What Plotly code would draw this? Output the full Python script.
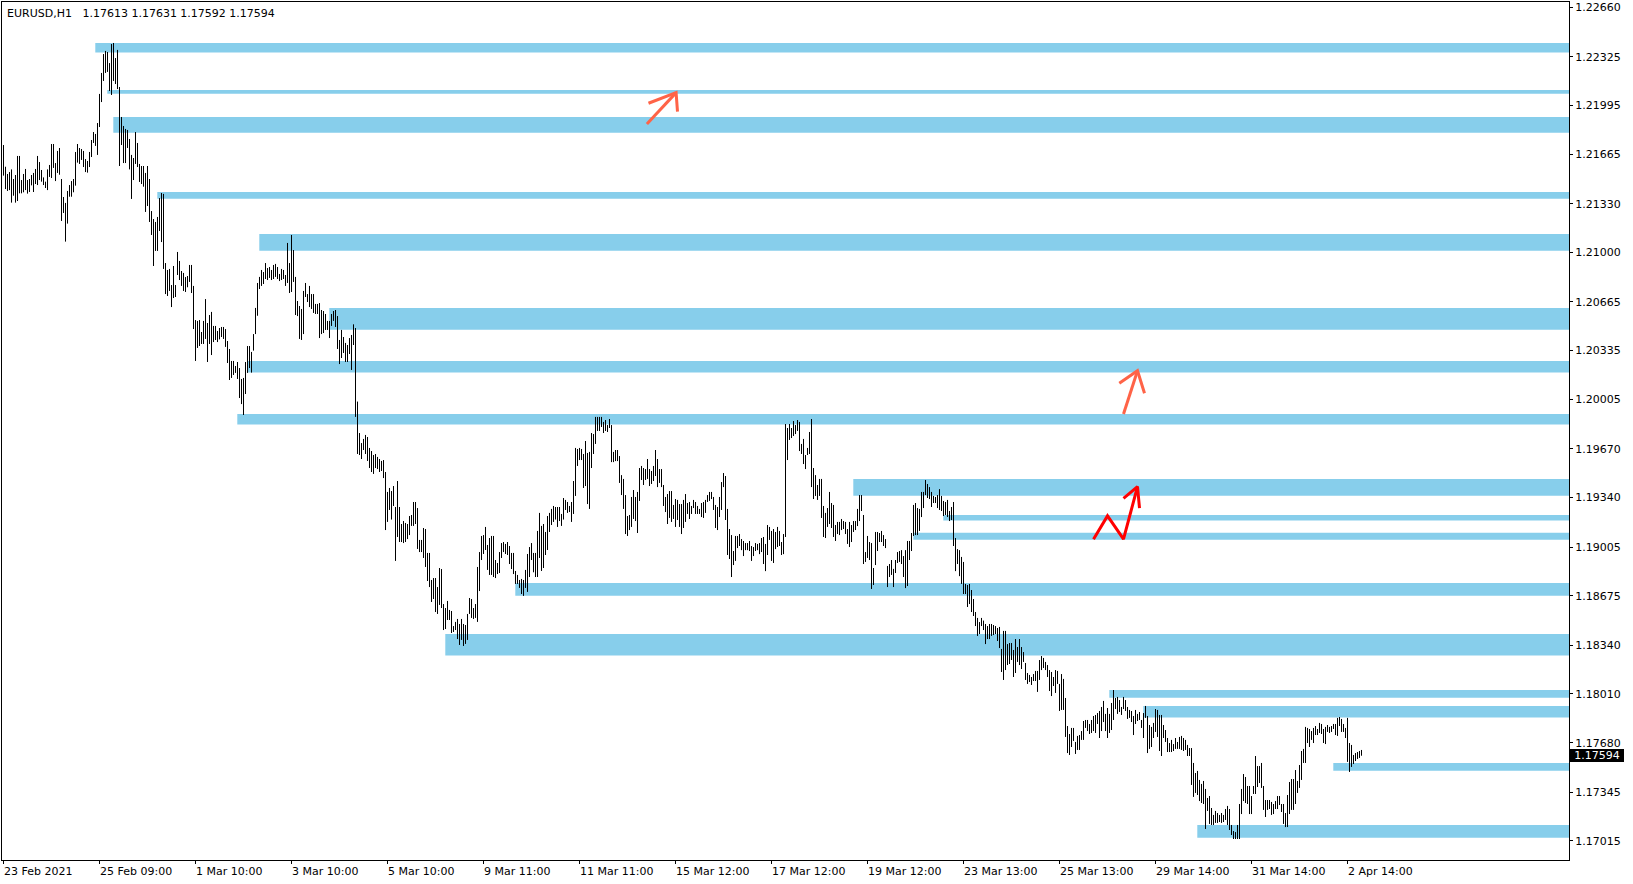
import plotly.graph_objects as go

# ---------------- data (EURUSD H1, one value per bar) ----------------
high = [
    1.21727, 1.21580, 1.21531, 1.21544, 1.21562, 1.21497, 1.21524, 1.21653, 1.21653, 1.21490,
    1.21531, 1.21565, 1.21490, 1.21497, 1.21524, 1.21538, 1.21565, 1.21653, 1.21612, 1.21558,
    1.21508, 1.21479, 1.21562, 1.21592, 1.21734, 1.21734, 1.21605, 1.21687, 1.21707, 1.21497,
    1.21375, 1.21335, 1.21416, 1.21456, 1.21483, 1.21497, 1.21680, 1.21734, 1.21707, 1.21700,
    1.21687, 1.21632, 1.21619, 1.21680, 1.21761, 1.21815, 1.21802, 1.21876, 1.22073, 1.22215,
    1.22343, 1.22364, 1.22357, 1.22282, 1.22411, 1.22418, 1.22316, 1.22371, 1.22120, 1.21917,
    1.21856, 1.21836, 1.21829, 1.21768, 1.21660, 1.21639, 1.21815, 1.21741, 1.21599, 1.21585,
    1.21585, 1.21538, 1.21585, 1.21497, 1.21280, 1.21226, 1.21206, 1.21240, 1.21368, 1.21402,
    1.21396, 1.20928, 1.20881, 1.20888, 1.20779, 1.20908, 1.20779, 1.21003, 1.20942, 1.20874,
    1.20861, 1.20833, 1.20840, 1.20915, 1.20915, 1.20773, 1.20542, 1.20536, 1.20542, 1.20461,
    1.20536, 1.20684, 1.20522, 1.20576, 1.20597, 1.20502, 1.20502, 1.20468, 1.20488, 1.20495,
    1.20495, 1.20481, 1.20400, 1.20346, 1.20265, 1.20265, 1.20231, 1.20258, 1.20217, 1.20143,
    1.20150, 1.20258, 1.20366, 1.20366, 1.20326, 1.20447, 1.20624, 1.20793, 1.20834, 1.20881,
    1.20867, 1.20928, 1.20894, 1.20901, 1.20881, 1.20915, 1.20922, 1.20901, 1.20854, 1.20888,
    1.20881, 1.20847, 1.21064, 1.20928, 1.21118, 1.21016, 1.20834, 1.20671, 1.20637, 1.20617,
    1.20739, 1.20793, 1.20718, 1.20773, 1.20718, 1.20718, 1.20651, 1.20651, 1.20657, 1.20610,
    1.20603, 1.20583, 1.20536, 1.20536, 1.20583, 1.20603, 1.20610, 1.20569, 1.20407, 1.20475,
    1.20427, 1.20387, 1.20373, 1.20420, 1.20441, 1.20513, 1.20488, 1.19990, 1.19777, 1.19709,
    1.19737, 1.19764, 1.19750, 1.19676, 1.19655, 1.19628, 1.19635, 1.19615, 1.19601, 1.19588,
    1.19594, 1.19513, 1.19378, 1.19405, 1.19384, 1.19418, 1.19276, 1.19452, 1.19276, 1.19161,
    1.19181, 1.19168, 1.19161, 1.19215, 1.19222, 1.19310, 1.19310, 1.19269, 1.19053, 1.19053,
    1.19134, 1.19127, 1.18965, 1.18965, 1.18782, 1.18795, 1.18795, 1.18734, 1.18863, 1.18856,
    1.18619, 1.18592, 1.18640, 1.18579, 1.18572, 1.18470, 1.18498, 1.18518, 1.18484, 1.18518,
    1.18484, 1.18477, 1.18552, 1.18660, 1.18653, 1.18592, 1.18619, 1.18870, 1.18971, 1.19080,
    1.19086, 1.19141, 1.19019, 1.19066, 1.19080, 1.19080, 1.18917, 1.18897, 1.18971, 1.19032,
    1.19039, 1.19026, 1.19039, 1.19012, 1.18965, 1.18965, 1.18843, 1.18816, 1.18782, 1.18789,
    1.18782, 1.18850, 1.18958, 1.19005, 1.19032, 1.18965, 1.18965, 1.19114, 1.19236, 1.19148,
    1.19161, 1.19107, 1.19215, 1.19236, 1.19263, 1.19283, 1.19276, 1.19276, 1.19276, 1.19229,
    1.19337, 1.19324, 1.19310, 1.19283, 1.19310, 1.19452, 1.19676, 1.19669, 1.19676, 1.19669,
    1.19635, 1.19723, 1.19642, 1.19649, 1.19777, 1.19770, 1.19886, 1.19886, 1.19886, 1.19886,
    1.19852, 1.19865, 1.19831, 1.19872, 1.19831, 1.19649, 1.19662, 1.19662, 1.19621, 1.19492,
    1.19466, 1.19357, 1.19215, 1.19222, 1.19344, 1.19391, 1.19344, 1.19378, 1.19540, 1.19554,
    1.19540, 1.19533, 1.19601, 1.19533, 1.19520, 1.19554, 1.19662, 1.19601, 1.19533, 1.19533,
    1.19425, 1.19344, 1.19364, 1.19384, 1.19384, 1.19290, 1.19330, 1.19324, 1.19296, 1.19296,
    1.19324, 1.19364, 1.19303, 1.19310, 1.19283, 1.19324, 1.19310, 1.19283, 1.19263, 1.19303,
    1.19310, 1.19324, 1.19357, 1.19378, 1.19378, 1.19344, 1.19290, 1.19276, 1.19344, 1.19445,
    1.19506, 1.19486, 1.19263, 1.19127, 1.19086, 1.18978, 1.19080, 1.19080, 1.19093, 1.19059,
    1.19046, 1.19032, 1.19032, 1.19046, 1.19012, 1.19005, 1.19032, 1.19026, 1.19032, 1.19066,
    1.19073, 1.19026, 1.19154, 1.19141, 1.19114, 1.19127, 1.19107, 1.19141, 1.19114, 1.19039,
    1.19093, 1.19838, 1.19811, 1.19838, 1.19811, 1.19858, 1.19831, 1.19865, 1.19852, 1.19703,
    1.19737, 1.19628, 1.19676, 1.19784, 1.19872, 1.19540, 1.19492, 1.19425, 1.19466, 1.19466,
    1.19283, 1.19236, 1.19269, 1.19378, 1.19303, 1.19290, 1.19154, 1.19175, 1.19175, 1.19195,
    1.19181, 1.19175, 1.19127, 1.19175, 1.19154, 1.19181, 1.19181, 1.19263, 1.19357, 1.19357,
    1.19222, 1.18971, 1.19080, 1.19039, 1.19032, 1.18863, 1.19107, 1.19107, 1.19100, 1.19114,
    1.19086, 1.19059, 1.18877, 1.18890, 1.18917, 1.18857, 1.18917, 1.18971, 1.18978, 1.18984,
    1.18944, 1.18984, 1.19046, 1.19046, 1.19100, 1.19290, 1.19303, 1.19269, 1.19263, 1.19378,
    1.19378, 1.19459, 1.19432, 1.19411, 1.19378, 1.19351, 1.19344, 1.19357, 1.19397, 1.19351,
    1.19317, 1.19310, 1.19324, 1.19249, 1.19276, 1.19310, 1.19066, 1.18991, 1.18984, 1.18938,
    1.18904, 1.18755, 1.18748, 1.18755, 1.18714, 1.18653, 1.18565, 1.18525, 1.18497, 1.18525,
    1.18507, 1.18484, 1.18470, 1.18484, 1.18484, 1.18477, 1.18470, 1.18457, 1.18464, 1.18315,
    1.18437, 1.18437, 1.18348, 1.18355, 1.18355, 1.18308, 1.18382, 1.18328, 1.18382, 1.18328,
    1.18294, 1.18220, 1.18152, 1.18139, 1.18125, 1.18145, 1.18166, 1.18166, 1.18240, 1.18267,
    1.18254, 1.18227, 1.18206, 1.18172, 1.18159, 1.18125, 1.18172, 1.18166, 1.18078, 1.18145,
    1.18112, 1.17983, 1.17793, 1.17739, 1.17780, 1.17780, 1.17685, 1.17726, 1.17732, 1.17759,
    1.17827, 1.17834, 1.17834, 1.17807, 1.17834, 1.17861, 1.17868, 1.17881, 1.17895, 1.17922,
    1.17963, 1.17875, 1.17915, 1.17875, 1.17949, 1.18037, 1.17983, 1.17990, 1.17969, 1.17922,
    1.17990, 1.17969, 1.17922, 1.17902, 1.17895, 1.17861, 1.17902, 1.17875, 1.17888, 1.17834,
    1.17881, 1.17929, 1.17861, 1.17800, 1.17787, 1.17814, 1.17908, 1.17902, 1.17868, 1.17868,
    1.17800, 1.17766, 1.17712, 1.17678, 1.17699, 1.17671, 1.17712, 1.17685, 1.17719, 1.17726,
    1.17712, 1.17699, 1.17665, 1.17644, 1.17644, 1.17543, 1.17475, 1.17489, 1.17428, 1.17401,
    1.17421, 1.17367, 1.17306, 1.17319, 1.17238, 1.17191, 1.17218, 1.17204, 1.17191, 1.17204,
    1.17191, 1.17231, 1.17252, 1.17231, 1.17123, 1.17082, 1.17075, 1.17123, 1.17265, 1.17367,
    1.17468, 1.17448, 1.17387, 1.17387, 1.17319, 1.17387, 1.17590, 1.17522, 1.17522, 1.17543,
    1.17387, 1.17292, 1.17292, 1.17292, 1.17279, 1.17265, 1.17285, 1.17319, 1.17319, 1.17265,
    1.17265, 1.17204, 1.17326, 1.17414, 1.17434, 1.17434, 1.17495, 1.17421, 1.17529, 1.17624,
    1.17638, 1.17787, 1.17780, 1.17773, 1.17759, 1.17780, 1.17793, 1.17773, 1.17814, 1.17807,
    1.17773, 1.17787, 1.17800, 1.17787, 1.17793, 1.17807, 1.17807, 1.17848, 1.17854, 1.17841,
    1.17807, 1.17780, 1.17848, 1.17678, 1.17665, 1.17597, 1.17610, 1.17617, 1.17624, 1.17631,
]

low = [
    1.21520, 1.21429, 1.21416, 1.21422, 1.21337, 1.21384, 1.21337, 1.21348, 1.21400, 1.21400,
    1.21407, 1.21422, 1.21398, 1.21409, 1.21454, 1.21409, 1.21463, 1.21456, 1.21490, 1.21479,
    1.21456, 1.21436, 1.21422, 1.21511, 1.21504, 1.21572, 1.21483, 1.21538, 1.21526, 1.21213,
    1.21267, 1.21073, 1.21195, 1.21377, 1.21377, 1.21407, 1.21452, 1.21608, 1.21599, 1.21626,
    1.21578, 1.21544, 1.21540, 1.21578, 1.21646, 1.21741, 1.21721, 1.21660, 1.21849, 1.22018,
    1.22161, 1.22215, 1.22222, 1.22093, 1.22066, 1.22161, 1.22140, 1.22106, 1.21585, 1.21727,
    1.21605, 1.21605, 1.21707, 1.21562, 1.21362, 1.21490, 1.21599, 1.21578, 1.21477, 1.21463,
    1.21445, 1.21274, 1.21314, 1.21206, 1.21118, 1.20908, 1.21010, 1.21010, 1.21145, 1.21070,
    1.20888, 1.20718, 1.20705, 1.20739, 1.20630, 1.20691, 1.20698, 1.20847, 1.20813, 1.20773,
    1.20739, 1.20732, 1.20764, 1.20800, 1.20725, 1.20481, 1.20265, 1.20353, 1.20366, 1.20380,
    1.20380, 1.20414, 1.20258, 1.20380, 1.20305, 1.20393, 1.20407, 1.20393, 1.20411, 1.20427,
    1.20414, 1.20360, 1.20251, 1.20136, 1.20150, 1.20170, 1.20184, 1.20143, 1.20014, 1.19973,
    1.19899, 1.20041, 1.20184, 1.20217, 1.20186, 1.20335, 1.20447, 1.20571, 1.20752, 1.20773,
    1.20786, 1.20820, 1.20813, 1.20827, 1.20813, 1.20820, 1.20834, 1.20820, 1.20806, 1.20813,
    1.20820, 1.20773, 1.20793, 1.20725, 1.20732, 1.20800, 1.20576, 1.20569, 1.20414, 1.20407,
    1.20447, 1.20698, 1.20664, 1.20630, 1.20617, 1.20590, 1.20583, 1.20583, 1.20420, 1.20447,
    1.20454, 1.20475, 1.20475, 1.20420, 1.20502, 1.20536, 1.20495, 1.20346, 1.20244, 1.20285,
    1.20319, 1.20258, 1.20258, 1.20312, 1.20204, 1.20373, 1.19886, 1.19635, 1.19628, 1.19601,
    1.19662, 1.19635, 1.19588, 1.19540, 1.19513, 1.19500, 1.19540, 1.19533, 1.19513, 1.19520,
    1.19472, 1.19120, 1.19175, 1.19256, 1.19191, 1.19283, 1.18911, 1.19073, 1.19039, 1.19039,
    1.19032, 1.19039, 1.19059, 1.19086, 1.19148, 1.19148, 1.19161, 1.18992, 1.18971, 1.18971,
    1.18931, 1.18870, 1.18775, 1.18734, 1.18633, 1.18653, 1.18565, 1.18552, 1.18613, 1.18592,
    1.18443, 1.18450, 1.18511, 1.18511, 1.18423, 1.18430, 1.18443, 1.18382, 1.18342, 1.18376,
    1.18335, 1.18349, 1.18376, 1.18552, 1.18525, 1.18518, 1.18525, 1.18498, 1.18707, 1.18917,
    1.18958, 1.18985, 1.18850, 1.18816, 1.18816, 1.18802, 1.18795, 1.18822, 1.18829, 1.18931,
    1.18971, 1.18958, 1.18951, 1.18890, 1.18856, 1.18822, 1.18755, 1.18755, 1.18728, 1.18687,
    1.18674, 1.18728, 1.18701, 1.18802, 1.18917, 1.18834, 1.18802, 1.18802, 1.18931, 1.18843,
    1.18863, 1.18951, 1.18985, 1.19107, 1.19154, 1.19175, 1.19191, 1.19141, 1.19181, 1.19148,
    1.19191, 1.19256, 1.19236, 1.19242, 1.19175, 1.19229, 1.19351, 1.19554, 1.19594, 1.19594,
    1.19405, 1.19418, 1.19296, 1.19263, 1.19540, 1.19635, 1.19703, 1.19791, 1.19791, 1.19818,
    1.19777, 1.19791, 1.19784, 1.19811, 1.19580, 1.19580, 1.19587, 1.19587, 1.19439, 1.19357,
    1.19263, 1.19093, 1.19080, 1.19120, 1.19141, 1.19195, 1.19181, 1.19100, 1.19317, 1.19459,
    1.19425, 1.19459, 1.19466, 1.19418, 1.19432, 1.19452, 1.19486, 1.19411, 1.19439, 1.19411,
    1.19283, 1.19242, 1.19161, 1.19202, 1.19175, 1.19195, 1.19141, 1.19188, 1.19141, 1.19093,
    1.19134, 1.19175, 1.19229, 1.19195, 1.19229, 1.19269, 1.19229, 1.19229, 1.19229, 1.19208,
    1.19202, 1.19236, 1.19310, 1.19317, 1.19330, 1.19256, 1.19134, 1.19120, 1.19208, 1.19256,
    1.19411, 1.19188, 1.18951, 1.18924, 1.18802, 1.18883, 1.18911, 1.18998, 1.19012, 1.18984,
    1.18944, 1.18984, 1.18984, 1.18978, 1.18911, 1.18944, 1.18978, 1.18984, 1.18957, 1.18971,
    1.18890, 1.18842, 1.18951, 1.19053, 1.18911, 1.18897, 1.18991, 1.19005, 1.19012, 1.18951,
    1.18957, 1.19073, 1.19594, 1.19730, 1.19743, 1.19757, 1.19770, 1.19791, 1.19655, 1.19635,
    1.19567, 1.19533, 1.19628, 1.19635, 1.19411, 1.19330, 1.19351, 1.19324, 1.19351, 1.19202,
    1.19073, 1.19066, 1.19141, 1.19161, 1.19134, 1.19073, 1.19046, 1.19093, 1.19086, 1.19120,
    1.19127, 1.19093, 1.19026, 1.19005, 1.19039, 1.19107, 1.19120, 1.19147, 1.19181, 1.19249,
    1.18890, 1.18904, 1.18931, 1.18917, 1.18721, 1.18748, 1.18883, 1.18978, 1.19039, 1.19039,
    1.19012, 1.18998, 1.18734, 1.18802, 1.18816, 1.18734, 1.18829, 1.18897, 1.18904, 1.18890,
    1.18802, 1.18727, 1.18741, 1.18917, 1.18978, 1.19080, 1.19086, 1.19086, 1.19114, 1.19208,
    1.19269, 1.19357, 1.19337, 1.19330, 1.19276, 1.19303, 1.19303, 1.19269, 1.19256, 1.19249,
    1.19215, 1.19222, 1.19208, 1.19181, 1.19188, 1.19012, 1.18842, 1.18890, 1.18808, 1.18755,
    1.18687, 1.18687, 1.18599, 1.18619, 1.18565, 1.18538, 1.18470, 1.18403, 1.18416, 1.18470,
    1.18443, 1.18348, 1.18382, 1.18382, 1.18403, 1.18409, 1.18416, 1.18369, 1.18321, 1.18159,
    1.18105, 1.18172, 1.18206, 1.18213, 1.18240, 1.18125, 1.18152, 1.18227, 1.18206, 1.18179,
    1.18227, 1.18105, 1.18078, 1.18091, 1.18071, 1.18098, 1.18098, 1.18024, 1.18105, 1.18172,
    1.18186, 1.18172, 1.18125, 1.18030, 1.17996, 1.18064, 1.18017, 1.18078, 1.17895, 1.17902,
    1.17902, 1.17719, 1.17610, 1.17597, 1.17651, 1.17692, 1.17604, 1.17631, 1.17631, 1.17699,
    1.17699, 1.17780, 1.17759, 1.17739, 1.17746, 1.17759, 1.17746, 1.17807, 1.17712, 1.17759,
    1.17820, 1.17759, 1.17712, 1.17746, 1.17766, 1.17834, 1.17908, 1.17875, 1.17888, 1.17868,
    1.17908, 1.17895, 1.17841, 1.17848, 1.17820, 1.17732, 1.17807, 1.17827, 1.17834, 1.17780,
    1.17712, 1.17848, 1.17610, 1.17638, 1.17651, 1.17712, 1.17753, 1.17719, 1.17624, 1.17590,
    1.17712, 1.17685, 1.17617, 1.17617, 1.17617, 1.17624, 1.17638, 1.17638, 1.17638, 1.17631,
    1.17624, 1.17631, 1.17590, 1.17590, 1.17394, 1.17313, 1.17340, 1.17326, 1.17285, 1.17272,
    1.17265, 1.17096, 1.17218, 1.17130, 1.17123, 1.17123, 1.17137, 1.17137, 1.17143, 1.17137,
    1.17143, 1.17157, 1.17123, 1.17089, 1.17055, 1.17028, 1.17028, 1.17028, 1.17028, 1.17197,
    1.17285, 1.17272, 1.17265, 1.17197, 1.17197, 1.17333, 1.17333, 1.17380, 1.17407, 1.17374,
    1.17225, 1.17177, 1.17225, 1.17231, 1.17191, 1.17197, 1.17231, 1.17231, 1.17258, 1.17211,
    1.17130, 1.17109, 1.17109, 1.17197, 1.17225, 1.17225, 1.17265, 1.17340, 1.17374, 1.17428,
    1.17543, 1.17543, 1.17678, 1.17651, 1.17699, 1.17678, 1.17732, 1.17732, 1.17746, 1.17739,
    1.17678, 1.17671, 1.17753, 1.17746, 1.17753, 1.17773, 1.17732, 1.17726, 1.17793, 1.17753,
    1.17753, 1.17712, 1.17550, 1.17482, 1.17516, 1.17536, 1.17556, 1.17570, 1.17577, 1.17592,
]

x_tick_labels = ["23 Feb 2021", "25 Feb 09:00", "1 Mar 10:00", "3 Mar 10:00", "5 Mar 10:00",
                 "9 Mar 11:00", "11 Mar 11:00", "15 Mar 12:00", "17 Mar 12:00", "19 Mar 12:00",
                 "23 Mar 13:00", "25 Mar 13:00", "29 Mar 14:00", "31 Mar 14:00", "2 Apr 14:00"]
x_tick_bars = [0, 48, 96, 144, 192, 240, 288, 336, 384, 432, 480, 528, 576, 624, 672]

y_ticks = [1.22660, 1.22325, 1.21995, 1.21665, 1.21330, 1.21000, 1.20665, 1.20335, 1.20005,
           1.19670, 1.19340, 1.19005, 1.18675, 1.18340, 1.18010, 1.17680, 1.17345, 1.17015]

# supply / demand zones: starting bar, upper price, lower price
zone_start = [45.9, 51.9, 54.9, 76.9, 127.9, 162.9, 121.9, 116.9, 424.9,
              469.9, 454.9, 255.9, 220.9, 552.9, 569.9, 664.9, 596.9]
zone_top = [1.22418, 1.22100, 1.21917, 1.21409, 1.21125, 1.20624, 1.20265, 1.19906, 1.19466,
            1.19222, 1.19101, 1.18762, 1.18417, 1.18037, 1.17929, 1.17543, 1.17123]
zone_bottom = [1.22353, 1.22075, 1.21811, 1.21364, 1.21012, 1.20477, 1.20186, 1.19834, 1.19353,
               1.19184, 1.19055, 1.18676, 1.18270, 1.17985, 1.17850, 1.17491, 1.17037]

# hand-drawn arrows (bar, price)
arrow1_bar = [321.7, 336.3, None, 322.5, 336.3, 337.0]
arrow1_price = [1.21870, 1.22082, None, 1.22010, 1.22082, 1.21953]
arrow2_bar = [560.0, 567.0, None, 557.9, 567.0, 570.5]
arrow2_price = [1.19906, 1.20199, None, 1.20114, 1.20199, 1.20046]
arrow3_bar = [545.0, 552.0, 560.0, 567.0, None, 560.0, 567.0, 568.0]
arrow3_price = [1.19058, 1.19216, 1.19058, 1.19414, None, 1.19335, 1.19414, 1.19268]

symbol = "EURUSD,H1"
last_ohlc = ["1.17613", "1.17631", "1.17592", "1.17594"]
last_price = 1.17594

FONT = "DejaVu Sans"

# ---------------- figure ----------------
xs, ys = [], []
for i, (h, l) in enumerate(zip(high, low)):
    xs += [i, i, None]
    ys += [l, h, None]

fig = go.Figure()
fig.add_trace(go.Scatter(x=xs, y=ys, mode="lines", line=dict(color="black", width=1),
                         hoverinfo="skip", showlegend=False))
fig.add_trace(go.Scatter(x=arrow1_bar + [None] + arrow2_bar, y=arrow1_price + [None] + arrow2_price,
                         mode="lines", line=dict(color="#FF6347", width=3),
                         hoverinfo="skip", showlegend=False))
fig.add_trace(go.Scatter(x=arrow3_bar, y=arrow3_price, mode="lines",
                         line=dict(color="#FF0000", width=3), hoverinfo="skip", showlegend=False))

for s, t, b in zip(zone_start, zone_top, zone_bottom):
    fig.add_shape(type="rect", xref="x", yref="y", x0=s, x1=900, y0=b, y1=t,
                  fillcolor="#87CEEB", line_width=0, layer="below")

annotations = []
for b, lab in zip(x_tick_bars, x_tick_labels):
    annotations.append(dict(x=b, xref="x", y=0, yref="paper", xanchor="left", yanchor="top",
                            xshift=-2, yshift=-3, text=lab, showarrow=False,
                            font=dict(family=FONT, size=11, color="black")))
annotations.append(dict(x=0, xref="paper", y=1, yref="paper", xanchor="left", yanchor="top",
                        xshift=3, yshift=-3,
                        text=symbol + "\u00a0\u00a0\u00a0" + "\u00a0".join(last_ohlc),
                        showarrow=False, font=dict(family=FONT, size=11, color="black")))
annotations.append(dict(x=1, xref="paper", y=last_price, yref="y", xanchor="left", yanchor="middle",
                        xshift=1, text=f"{last_price:.5f}", showarrow=False, bgcolor="black",
                        width=54, height=13, borderpad=0, borderwidth=0, align="center",
                        font=dict(family=FONT, size=11, color="white")))

fig.update_layout(
    width=1633, height=884,
    margin=dict(l=2, r=64, t=2, b=24),
    paper_bgcolor="white", plot_bgcolor="white",
    showlegend=False,
    font=dict(family=FONT, size=11, color="black"),
    annotations=annotations,
    xaxis=dict(range=[-0.75, 782.75], showgrid=False, zeroline=False, showline=True,
               linecolor="black", linewidth=1, mirror=True, ticks="outside", ticklen=3,
               tickcolor="black", tickvals=x_tick_bars, showticklabels=False, fixedrange=True),
    yaxis=dict(range=[1.168859, 1.226955], side="right", showgrid=False, zeroline=False,
               showline=True, linecolor="black", linewidth=1, mirror=True, ticks="outside",
               ticklen=3, tickcolor="black", tickvals=y_ticks,
               ticktext=[f"{v:.5f}" for v in y_ticks],
               tickfont=dict(family=FONT, size=11, color="black"), fixedrange=True),
)

fig.write_html("out.html", config={"displayModeBar": False},
               post_script="document.body.style.margin='0px';document.body.style.overflow='hidden';")
